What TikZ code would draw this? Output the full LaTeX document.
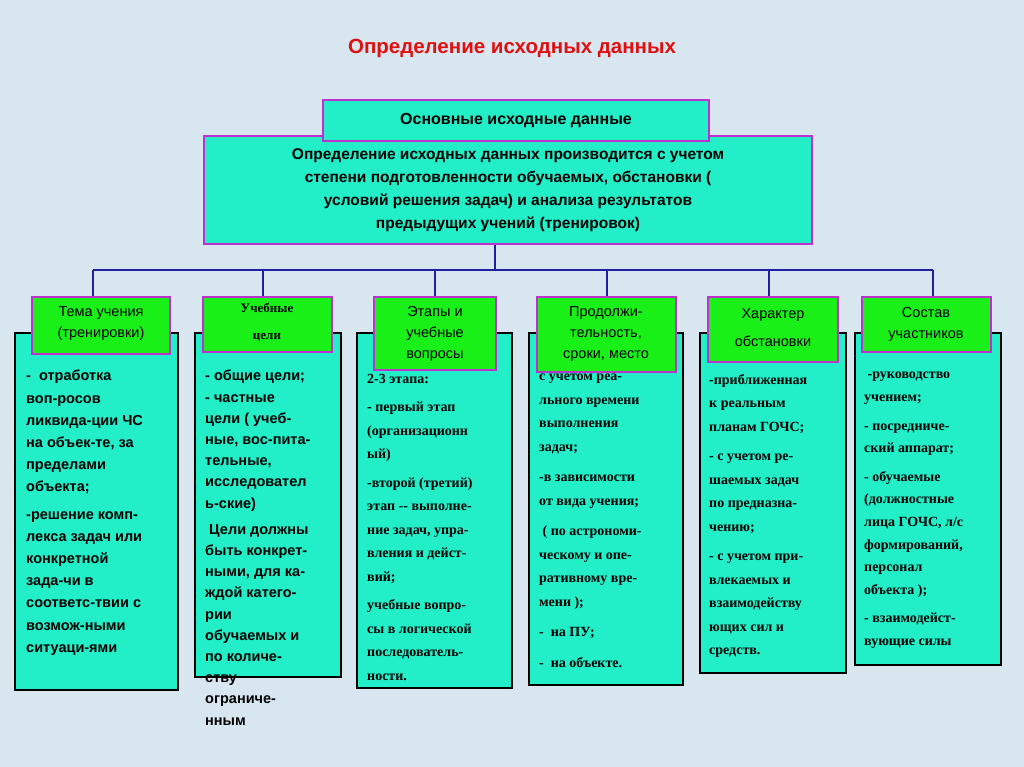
\documentclass[tikz,border=0pt]{standalone}
\usepackage{fontspec}
\setmainfont{Liberation Sans}
\newfontfamily\serifb{Liberation Serif}
\definecolor{bg}{HTML}{D8E6F0}
\definecolor{teal}{HTML}{22EEC8}
\definecolor{hgreen}{HTML}{18F018}
\definecolor{mag}{HTML}{C030D0}
\definecolor{ttl}{HTML}{E01010}
\definecolor{lineblue}{HTML}{2020A0}
\tikzset{
 body/.style={draw=black,line width=2pt,fill=teal},
 head/.style={draw=mag,line width=2.5pt,fill=hgreen},
 main/.style={draw=mag,line width=2.5pt,fill=teal},
 conn/.style={draw=lineblue,line width=2pt},
 txt/.style={anchor=north west,align=left,inner sep=0pt,font=\bfseries\fontsize{14.5}{22.2}\selectfont},
 stxt/.style={anchor=north west,align=left,inner sep=0pt,font=\serifb\bfseries\fontsize{14}{23.5}\selectfont},
 htxt/.style={align=center,inner sep=0pt,font=\fontsize{14.5}{21}\selectfont}
}
\begin{document}
\begin{tikzpicture}[x=1pt,y=-1pt]
\useasboundingbox (0,0) rectangle (1024,767);
\fill[bg] (0,0) rectangle (1024,767);
\node[font=\bfseries\fontsize{20.5}{24}\selectfont,text=ttl] (title) at (512,48) {Определение исходных данных};
% connectors
\coordinate (hub) at (495,270);
\coordinate (l) at (93,270);
\coordinate (r) at (933,270);
\draw[conn] (495,244) -- (hub);
\draw[conn] (l) -- (r);
\foreach \x in {93,263,435,607,769,933}{\draw[conn] (\x,270) -- (\x,298);}
% main boxes
\draw[main] (204,136) rectangle (812,244);
\node[htxt,font=\bfseries\fontsize{15.5}{23}\selectfont] (desc) at (508,190) {Определение исходных данных производится с учетом\\степени подготовленности обучаемых, обстановки (\\условий решения задач) и анализа результатов\\предыдущих учений (тренировок)};
\draw[main] (323,100) rectangle (709,141);
\node[font=\bfseries\fontsize{16}{20}\selectfont] (mainh) at (516,121) {Основные исходные данные};
% body boxes
\draw[body] (15,333) rectangle (178,690);
\draw[body] (195,333) rectangle (341,677);
\draw[body] (357,333) rectangle (512,688);
\draw[body] (529,333) rectangle (683,685);
\draw[body] (700,333) rectangle (846,673);
\draw[body] (855,333) rectangle (1001,665);
% headers
\draw[head] (32,297) rectangle (170,354);
\node[htxt] (h1) at (101,324) {Тема учения\\(тренировки)};
\draw[head] (203,297) rectangle (332,352);
\node[htxt,font=\serifb\bfseries\fontsize{13}{27}\selectfont] (h2) at (267,322) {Учебные\\цели};
\draw[head] (374,297) rectangle (496,370);
\node[htxt] (h3) at (435,334) {Этапы и\\учебные\\вопросы};
\draw[head] (537,297) rectangle (676,372);
\node[htxt] (h4) at (606,334) {Продолжи-\\тельность,\\сроки, место};
\draw[head] (708,297) rectangle (838,362);
\node[htxt,font=\fontsize{14.5}{28}\selectfont] (h5) at (773,328) {Характер\\обстановки};
\draw[head] (862,297) rectangle (991,352);
\node[htxt] (h6) at (926,324) {Состав\\участников};
% body texts
\node[txt] (t1) at (26,370) {-\ \ отработка\\воп-росов\\ликвида-ции ЧС\\на объек-те, за\\пределами\\объекта;\\[5pt]-решение комп-\\лекса задач или\\конкретной\\зада-чи в\\соответс-твии с\\возмож-ными\\ситуаци-ями};
\node[txt,font=\bfseries\fontsize{14.5}{21.2}\selectfont] (t2) at (205,370) {- общие цели;\\- частные\\цели ( учеб-\\ные, вос-пита-\\тельные,\\исследовател\\ь-ские)\\[5pt]\ Цели должны\\быть конкрет-\\ными, для ка-\\ждой катего-\\рии\\обучаемых и\\по количе-\\ству\\ограниче-\\нным};
\node[stxt] (t3) at (367,374) {2-3 этапа:\\[5pt]- первый этап\\(организационн\\ый)\\[5pt]-второй (третий)\\этап -- выполне-\\ние задач, упра-\\вления и дейст-\\вий;\\[5pt]учебные вопро-\\сы в логической\\последователь-\\ности.};
\node[stxt] (t4) at (539,374) {с учетом реа-\\льного времени\\выполнения\\задач;\\[7pt]-в зависимости\\от вида учения;\\[7pt]\ ( по астрономи-\\ческому и опе-\\ративному вре-\\мени );\\[7pt]-\ \ на ПУ;\\[7pt]-\ \ на объекте.};
\node[stxt] (t5) at (709,374) {-приближенная\\к реальным\\планам ГОЧС;\\[6pt]- с учетом ре-\\шаемых задач\\по предназна-\\чению;\\[6pt]- с учетом при-\\влекаемых и\\взаимодейству\\ющих сил и\\средств.};
\node[stxt,font=\serifb\bfseries\fontsize{14}{22.6}\selectfont] (t6) at (864,372) {\ -руководство\\учением;\\[6pt]- посредниче-\\ский аппарат;\\[6pt]- обучаемые\\(должностные\\лица ГОЧС, л/с\\формирований,\\персонал\\объекта );\\[6pt]- взаимодейст-\\вующие силы};
\end{tikzpicture}
\end{document}
